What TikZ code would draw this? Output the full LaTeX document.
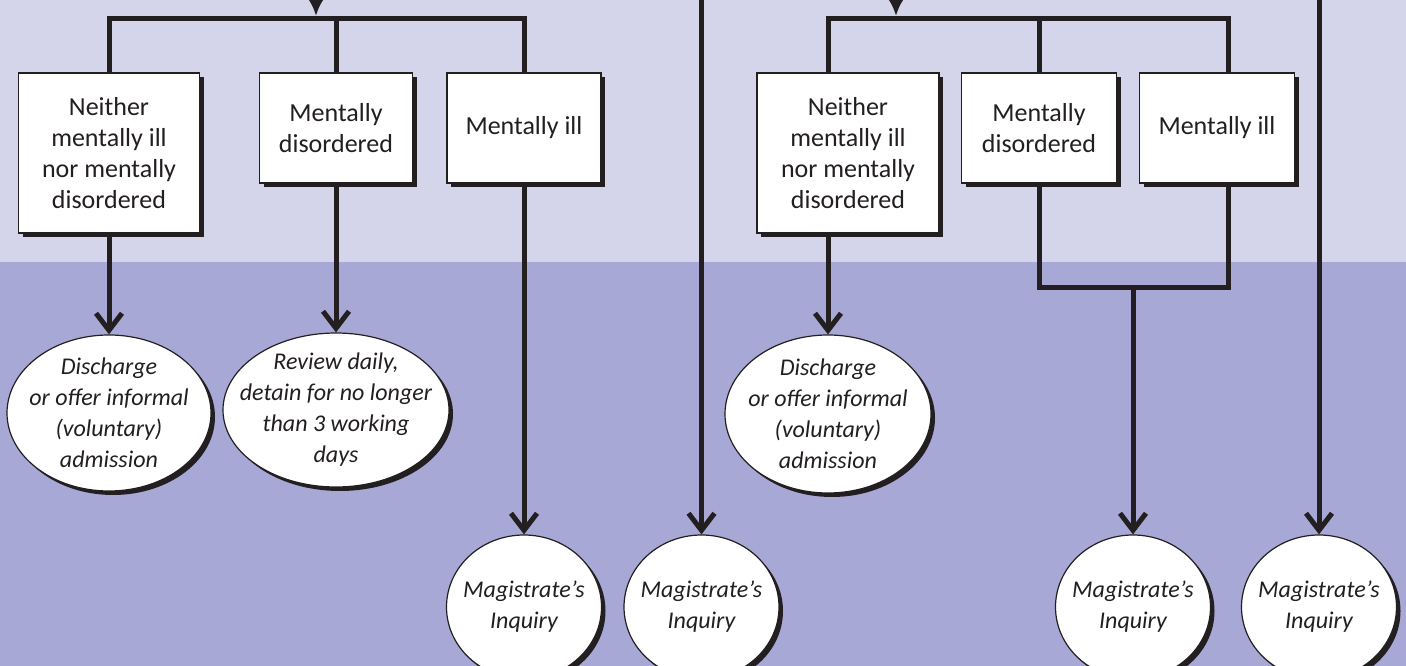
\documentclass[tikz,border=0pt]{standalone}
\usepackage{fontspec}
\setmainfont{Carlito}
\usepackage{xcolor}
\usepackage{tikz}
\usetikzlibrary{arrows,arrows.meta,calc,shadows,backgrounds,positioning,shapes}
\definecolor{bandtop}{RGB}{212,212,234}
\definecolor{bandlow}{RGB}{168,168,214}
\definecolor{ink}{RGB}{35,31,32}
\tikzset{>=latex}
\newcommand{\boxfont}{\fontsize{26}{31}\selectfont}
\newcommand{\ellfont}{\fontsize{24}{31}\selectfont\itshape}
\tikzset{
  flow/.style={draw=ink, line width=5pt},
  into/.style={flow, -{Straight Barb[length=17pt,width=26pt]}},
  feed/.style={flow, -{Latex[length=17pt,width=16pt]}},
  inkshadow/.style={drop shadow={shadow xshift=4pt, shadow yshift=-4pt, fill=ink, opacity=1}},
  choice/.style={rectangle, draw=ink, line width=1.2pt, fill=white, text=ink,
    align=center, inner sep=0pt, font=\boxfont, inkshadow},
  outcome/.style={ellipse, draw=ink, line width=1.2pt, fill=white, text=ink,
    align=center, inner xsep=-45pt, inner ysep=-35pt, font=\ellfont, inkshadow},
}

\begin{document}
\begin{tikzpicture}[x=1pt,y=-1pt]
          \useasboundingbox (0,0) rectangle (1406,666);
          \fill[bandtop] (0,0) rectangle (1406,262);
          \fill[bandlow] (0,262) rectangle (1406,666);

          % left assessment
          \node[choice, minimum width=181pt, minimum height=160pt] at (109,153) (lnone)
          {Neither\\mentally ill\\nor mentally\\disordered};
          \node[choice, minimum width=153pt, minimum height=110pt] at (336,128) (ldis)
          {Mentally\\disordered};
          \node[choice, minimum width=154pt, minimum height=110pt] at (524,128) (lill)
          {Mentally ill};
          \node[outcome, minimum width=204pt, minimum height=156pt] at (109,413) (ldisch)
          {Discharge\\or offer informal\\(voluntary)\\admission};
          \node[outcome, minimum width=226pt, minimum height=154pt] at (336,410) (lreview)
          {Review daily,\\detain for no longer\\than 3 working\\days};
          \node[outcome, minimum width=155pt, minimum height=144pt] at (524,607) (lmag)
          {Magistrate's\\Inquiry};

          % middle line
          \node[outcome, minimum width=155pt, minimum height=144pt] at (701.5,607) (mmag)
          {Magistrate's\\Inquiry};

          % right assessment
          \node[choice, minimum width=182pt, minimum height=160pt] at (848,153) (rnone)
          {Neither\\mentally ill\\nor mentally\\disordered};
          \node[choice, minimum width=155pt, minimum height=110pt] at (1039,128) (rdis)
          {Mentally\\disordered};
          \node[choice, minimum width=155pt, minimum height=110pt] at (1217,128) (rill)
          {Mentally ill};
          \node[outcome, minimum width=206pt, minimum height=158pt] at (828,414) (rdisch)
          {Discharge\\or offer informal\\(voluntary)\\admission};
          \node[outcome, minimum width=155pt, minimum height=144pt] at (1133,607) (rmag)
          {Magistrate's\\Inquiry};
          \node[outcome, minimum width=155pt, minimum height=144pt] at (1319,607) (emag)
          {Magistrate's\\Inquiry};

          \coordinate (lin) at (316,-20);
          \coordinate (ltip) at (316,16);
          \coordinate (lbar) at (316,18.5);
          \coordinate (rin) at (896,-20);
          \coordinate (rtip) at (896,16);
          \coordinate (rbar) at (896,18.5);
          \coordinate (rjoin) at (1133,287);
          \coordinate (mtop) at (701.5,-20);
          \coordinate (etop) at (1319,-20);

          \draw[feed] (lin) -- (ltip);
          \draw[flow] (lnone.north) |- (lbar) -| (lill.north);
          \draw[flow] (lbar -| ldis.north) -- (ldis.north);
          \draw[into] (lnone.south) -- (ldisch.north);
          \draw[into] (ldis.south) -- (lreview.north);
          \draw[into] (lill.south) -- (lmag.north);

          \draw[into] (mtop) -- (mmag.north);

          \draw[feed] (rin) -- (rtip);
          \draw[flow] (rdisch |- rnone.north) |- (rbar) -| ([xshift=11pt]rill.north);
          \draw[flow] (rbar -| rdis.north) -- (rdis.north);
          \draw[into] (rdisch |- rnone.south) -- (rdisch.north);
          \draw[flow] (rdis.south) |- (rjoin) -| ([xshift=11pt]rill.south);
          % \draw[into] (rjoin) to node {} (rmag);
          \draw[into] (rjoin) -- (rmag.north);

          \draw[into] (etop) -- (emag.north);
        \end{tikzpicture}
\end{document}
